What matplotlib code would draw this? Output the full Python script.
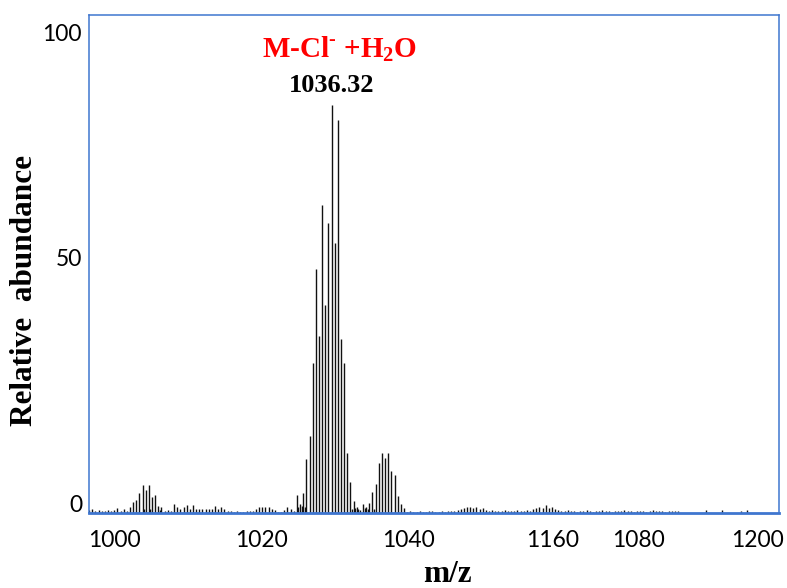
import numpy as np
import matplotlib
matplotlib.use('Agg')
import matplotlib.pyplot as plt

# isotope-spaced sticks, one per 1 m/z starting at MZ_START (relative abundance)
MZ_START = 959.32
INTENSITY = [
    0.6, 0.9, 0.5, 0.6, 0.5, 0.5, 0.6, 0.5, 0.6, 1.0,
    0.5, 0.8, 0.5, 1.2, 2.2, 2.7, 4.1, 5.8, 4.8, 5.8,
    3.4, 3.8, 1.5, 1.2, 0.5, 0.6, 0.4, 1.9, 1.3, 0.8,
    1.3, 1.6, 0.8, 1.6, 0.8, 0.9, 0.8, 0.8, 0.8, 0.9,
    1.5, 0.9, 1.3, 0.8, 0.5, 0.4, 0.3, 0.4, 0.3, 0.3,
    0.4, 0.4, 0.5, 0.8, 1.2, 1.2, 1.3, 1.2, 0.8, 0.6,
    0.3, 0.3, 0.6, 1.2, 0.8, 0.5, 3.8, 1.9, 4.1, 11.2,
    16.0, 31.3, 51.0, 36.9, 64.4, 43.5, 60.5, 85.3, 56.3, 82.1,
    36.3, 31.4, 12.6, 6.5, 2.6, 1.3, 0.6, 1.9, 1.3, 2.1,
    4.4, 6.0, 10.5, 12.5, 11.5, 12.5, 8.8, 7.9, 3.5, 1.9,
    1.0, 0.3, 0.4, 0.3, 0.3, 0.4, 0.3, 0.3, 0.4, 0.4,
    0.3, 0.3, 0.4, 0.3, 0.4, 0.5, 0.4, 0.7, 0.9, 1.1,
    1.3, 1.2, 1.0, 1.3, 0.9, 1.1, 0.7, 0.5, 0.6, 0.5,
    0.5, 0.4, 0.6, 0.5, 0.4, 0.5, 0.6, 0.4, 0.5, 0.6,
    0.4, 0.8, 1.1, 1.3, 1.0, 1.6, 1.1, 1.2, 0.9, 0.6,
    0.5, 0.4, 0.6, 0.4, 0.5, 0.3, 0.4, 0.5, 0.6, 0.4,
    0.3, 0.5, 0.4, 0.6, 0.5, 0.4, 0.3, 0.5, 0.4, 0.5,
    0.6, 0.4, 0.5, 0.3, 0.4, 0.5, 0.4, 0.3, 0.5, 0.6,
    0.4, 0.5, 0.4, 0.3, 0.5, 0.4, 0.5, 0.4,
]

# small in-between sticks near the clusters
MINOR_MZ = [976.8, 978.8, 981.8, 1025.8, 1026.8, 1027.8, 1042.8, 1043.8,
            1044.8, 1046.8, 1047.8, 1049.8]
MINOR_INT = [0.8, 0.9, 0.7, 1.2, 1.5, 1.3, 0.9, 1.0, 0.8, 1.0, 0.9, 0.8]

# isolated sticks at the high-mass end
SPARSE_MZ = [1155.3, 1160.3, 1166.3, 1168.3]
SPARSE_INT = [0.6, 0.7, 0.5, 0.6]

XTICK_LABELS = ['1000', '1020', '1040', '1160', '1080', '1200']
YTICK_LABELS = ['0', '50', '100']
PEAK_MZ = 1036.32

FRAME = '#3f76cf'
SERIF = 'Liberation Serif'

plt.rcParams['mathtext.fontset'] = 'custom'
plt.rcParams['mathtext.rm'] = SERIF
plt.rcParams['mathtext.bf'] = SERIF + ':bold'

fig = plt.figure(figsize=(7.87, 5.88), dpi=100)
ax = fig.add_axes([89 / 787, 1 - 513 / 588, 690 / 787, 498 / 588])

mz = MZ_START + np.arange(len(INTENSITY))
ax.vlines(mz, 0, INTENSITY, color='#111111', lw=1.0)
ax.vlines(MINOR_MZ, 0, MINOR_INT, color='#111111', lw=1.0)
ax.vlines(SPARSE_MZ, 0, SPARSE_INT, color='#111111', lw=1.0)

xlim = (959.3, 1178.4)
ylim = (0, 104)
ax.set_xlim(xlim)
ax.set_ylim(ylim)

# tick labels sit where the original put them (not on a regular grid)
xfrac = [0.0375, 0.2507, 0.4623, 0.6725, 0.7957, 0.9681]
yfrac = [0.020, 0.514, 0.964]
ax.set_xticks([xlim[0] + f * (xlim[1] - xlim[0]) for f in xfrac])
ax.set_xticklabels(XTICK_LABELS)
ax.set_yticks([ylim[0] + f * (ylim[1] - ylim[0]) for f in yfrac])
ax.set_yticklabels(YTICK_LABELS)
ax.tick_params(axis='x', length=0, pad=12, labelsize=16.5)
ax.tick_params(axis='y', length=0, pad=5, labelsize=16.5)
for lab in ax.get_xticklabels() + ax.get_yticklabels():
    lab.set_fontfamily('Lato')

for side in ['left', 'right', 'top']:
    ax.spines[side].set_color(FRAME)
    ax.spines[side].set_linewidth(1.1)
ax.spines['bottom'].set_color(FRAME)
ax.spines['bottom'].set_linewidth(2.0)

ax.text(1039.0, 0.916, 'M-Cl$^{\\mathbf{\u2010}}$ +H$_{\\mathbf{2}}$O', transform=ax.get_xaxis_transform(),
        ha='center', va='baseline', color='red', fontsize=21, fontweight='bold', family=SERIF)
ax.text(PEAK_MZ, 0.845, f'{PEAK_MZ:.2f}', transform=ax.get_xaxis_transform(),
        ha='center', va='baseline', color='black', fontsize=19, fontweight='bold', family=SERIF)

fig.text(25 / 787, 1 - 290 / 588, 'Relative  abundance', rotation=90, ha='center', va='center',
         fontsize=22.5, fontweight='bold', family=SERIF)
fig.text(447 / 787, 1 - 582 / 588, 'm/z', ha='center', va='baseline',
         fontsize=22.5, fontweight='bold', family=SERIF)

fig.savefig('out.png', dpi=100)
